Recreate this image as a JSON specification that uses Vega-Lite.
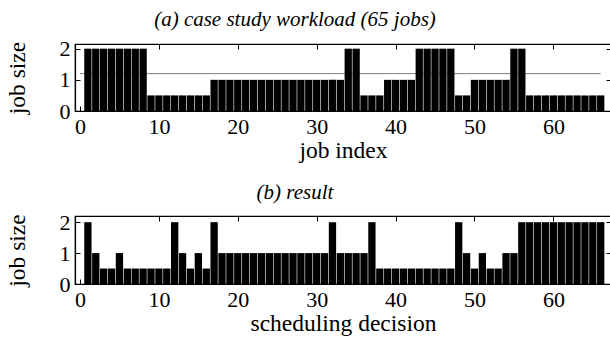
{
  "$schema": "https://vega.github.io/schema/vega-lite/v6.json",
  "padding": {"left": 4, "top": 8, "right": 0, "bottom": 0},
  "background": "white",
  "spacing": 18,
  "datasets": {
    "workload": [
      {"job": 1, "size": 2}, {"job": 2, "size": 2}, {"job": 3, "size": 2}, {"job": 4, "size": 2},
      {"job": 5, "size": 2}, {"job": 6, "size": 2}, {"job": 7, "size": 2}, {"job": 8, "size": 2},
      {"job": 9, "size": 0.5}, {"job": 10, "size": 0.5}, {"job": 11, "size": 0.5}, {"job": 12, "size": 0.5},
      {"job": 13, "size": 0.5}, {"job": 14, "size": 0.5}, {"job": 15, "size": 0.5}, {"job": 16, "size": 0.5},
      {"job": 17, "size": 1}, {"job": 18, "size": 1}, {"job": 19, "size": 1}, {"job": 20, "size": 1},
      {"job": 21, "size": 1}, {"job": 22, "size": 1}, {"job": 23, "size": 1}, {"job": 24, "size": 1},
      {"job": 25, "size": 1}, {"job": 26, "size": 1}, {"job": 27, "size": 1}, {"job": 28, "size": 1},
      {"job": 29, "size": 1}, {"job": 30, "size": 1}, {"job": 31, "size": 1}, {"job": 32, "size": 1},
      {"job": 33, "size": 1}, {"job": 34, "size": 2}, {"job": 35, "size": 2}, {"job": 36, "size": 0.5},
      {"job": 37, "size": 0.5}, {"job": 38, "size": 0.5}, {"job": 39, "size": 1}, {"job": 40, "size": 1},
      {"job": 41, "size": 1}, {"job": 42, "size": 1}, {"job": 43, "size": 2}, {"job": 44, "size": 2},
      {"job": 45, "size": 2}, {"job": 46, "size": 2}, {"job": 47, "size": 2}, {"job": 48, "size": 0.5},
      {"job": 49, "size": 0.5}, {"job": 50, "size": 1}, {"job": 51, "size": 1}, {"job": 52, "size": 1},
      {"job": 53, "size": 1}, {"job": 54, "size": 1}, {"job": 55, "size": 2}, {"job": 56, "size": 2},
      {"job": 57, "size": 0.5}, {"job": 58, "size": 0.5}, {"job": 59, "size": 0.5}, {"job": 60, "size": 0.5},
      {"job": 61, "size": 0.5}, {"job": 62, "size": 0.5}, {"job": 63, "size": 0.5}, {"job": 64, "size": 0.5},
      {"job": 65, "size": 0.5}, {"job": 66, "size": 0.5}
    ],
    "result": [
      {"decision": 1, "size": 2}, {"decision": 2, "size": 1}, {"decision": 3, "size": 0.5}, {"decision": 4, "size": 0.5},
      {"decision": 5, "size": 1}, {"decision": 6, "size": 0.5}, {"decision": 7, "size": 0.5}, {"decision": 8, "size": 0.5},
      {"decision": 9, "size": 0.5}, {"decision": 10, "size": 0.5}, {"decision": 11, "size": 0.5}, {"decision": 12, "size": 2},
      {"decision": 13, "size": 1}, {"decision": 14, "size": 0.5}, {"decision": 15, "size": 1}, {"decision": 16, "size": 0.5},
      {"decision": 17, "size": 2}, {"decision": 18, "size": 1}, {"decision": 19, "size": 1}, {"decision": 20, "size": 1},
      {"decision": 21, "size": 1}, {"decision": 22, "size": 1}, {"decision": 23, "size": 1}, {"decision": 24, "size": 1},
      {"decision": 25, "size": 1}, {"decision": 26, "size": 1}, {"decision": 27, "size": 1}, {"decision": 28, "size": 1},
      {"decision": 29, "size": 1}, {"decision": 30, "size": 1}, {"decision": 31, "size": 1}, {"decision": 32, "size": 2},
      {"decision": 33, "size": 1}, {"decision": 34, "size": 1}, {"decision": 35, "size": 1}, {"decision": 36, "size": 1},
      {"decision": 37, "size": 2}, {"decision": 38, "size": 0.5}, {"decision": 39, "size": 0.5}, {"decision": 40, "size": 0.5},
      {"decision": 41, "size": 0.5}, {"decision": 42, "size": 0.5}, {"decision": 43, "size": 0.5}, {"decision": 44, "size": 0.5},
      {"decision": 45, "size": 0.5}, {"decision": 46, "size": 0.5}, {"decision": 47, "size": 0.5}, {"decision": 48, "size": 2},
      {"decision": 49, "size": 1}, {"decision": 50, "size": 0.5}, {"decision": 51, "size": 1}, {"decision": 52, "size": 0.5},
      {"decision": 53, "size": 0.5}, {"decision": 54, "size": 1}, {"decision": 55, "size": 1}, {"decision": 56, "size": 2},
      {"decision": 57, "size": 2}, {"decision": 58, "size": 2}, {"decision": 59, "size": 2}, {"decision": 60, "size": 2},
      {"decision": 61, "size": 2}, {"decision": 62, "size": 2}, {"decision": 63, "size": 2}, {"decision": 64, "size": 2},
      {"decision": 65, "size": 2}, {"decision": 66, "size": 2}
    ],
    "threshold": [{"level": 1.2, "from": 0, "to": 66}]
  },
  "vconcat": [
    {
      "title": {"text": "(a) case study workload (65 jobs)", "dx": -48},
      "width": 536,
      "height": 67,
      "layer": [
        {
          "data": {"name": "threshold"},
          "mark": {"type": "rule", "color": "#808080", "strokeWidth": 1},
          "encoding": {
            "x": {"field": "from", "type": "quantitative", "scale": {"domain": [0, 66.67], "nice": false},
                  "axis": {"orient": "top", "values": [10, 20, 30, 40, 50, 60], "labels": false, "title": null, "domain": false, "tickSize": -5}},
            "x2": {"field": "to"},
            "y": {"field": "level", "type": "quantitative", "scale": {"domain": [0, 2.15], "nice": false},
                  "axis": {"orient": "right", "values": [1, 2], "labels": false, "title": null, "domain": false, "tickSize": -5}}
          }
        },
        {
          "data": {"name": "workload"},
          "mark": {"type": "bar", "color": "black", "width": 7.3},
          "encoding": {
            "x": {"field": "job", "type": "quantitative",
                  "axis": {"orient": "bottom", "values": [0, 10, 20, 30, 40, 50, 60], "title": "job index", "tickSize": -5, "labelPadding": 10, "titlePadding": 1}},
            "y": {"field": "size", "type": "quantitative",
                  "axis": {"orient": "left", "values": [0, 1, 2], "title": "job size", "tickSize": -5, "labelPadding": 10, "titlePadding": 30}}
          }
        }
      ],
      "resolve": {"axis": {"x": "independent", "y": "independent"}}
    },
    {
      "title": {"text": "(b) result", "dx": -48},
      "width": 536,
      "height": 68,
      "layer": [
        {
          "data": {"name": "result"},
          "mark": {"type": "bar", "color": "black", "width": 7.3},
          "encoding": {
            "x": {"field": "decision", "type": "quantitative", "scale": {"domain": [0, 66.67], "nice": false},
                  "axis": {"orient": "bottom", "values": [0, 10, 20, 30, 40, 50, 60], "title": "scheduling decision", "tickSize": -5, "labelPadding": 10, "titlePadding": 1}},
            "y": {"field": "size", "type": "quantitative", "scale": {"domain": [0, 2.2], "nice": false},
                  "axis": {"orient": "left", "values": [0, 1, 2], "title": "job size", "tickSize": -5, "labelPadding": 10, "titlePadding": 30}}
          }
        },
        {
          "data": {"name": "result"},
          "mark": {"type": "tick", "opacity": 0},
          "encoding": {
            "x": {"field": "decision", "type": "quantitative",
                  "axis": {"orient": "top", "values": [10, 20, 30, 40, 50, 60], "labels": false, "title": null, "domain": false, "tickSize": -5}},
            "y": {"field": "size", "type": "quantitative",
                  "axis": {"orient": "right", "values": [1, 2], "labels": false, "title": null, "domain": false, "tickSize": -5}}
          }
        }
      ],
      "resolve": {"axis": {"x": "independent", "y": "independent"}}
    }
  ],
  "config": {
    "font": "Liberation Serif",
    "view": {"stroke": "black", "strokeWidth": 1.2},
    "title": {"font": "Liberation Serif", "fontSize": 21, "fontStyle": "italic", "fontWeight": "normal", "color": "black", "anchor": "middle", "offset": 8},
    "axis": {
      "labelFont": "Liberation Serif", "titleFont": "Liberation Serif",
      "labelFontSize": 22, "titleFontSize": 23.5, "titleFontWeight": "normal",
      "labelColor": "black", "titleColor": "black",
      "domainColor": "black", "tickColor": "black", "domainWidth": 1.2, "tickWidth": 1,
      "grid": false
    }
  }
}
